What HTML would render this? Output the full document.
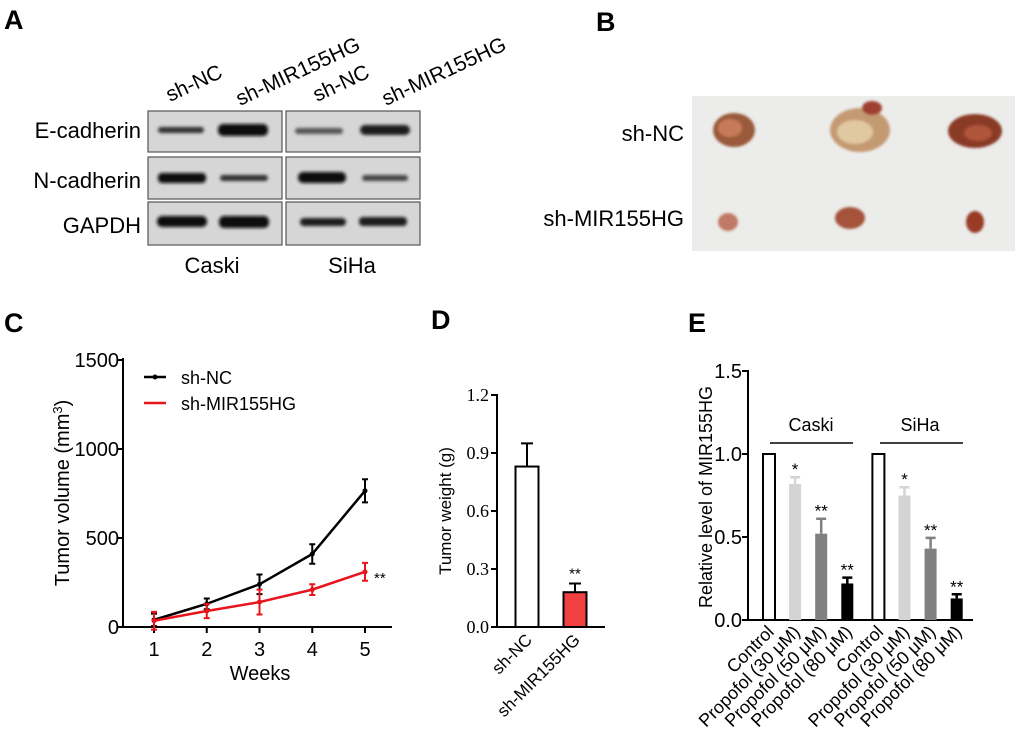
<!DOCTYPE html>
<html><head><meta charset="utf-8"><style>
html,body{margin:0;padding:0;background:#fff;}
svg{display:block;font-family:"Liberation Sans",Arial,sans-serif;}
</style></head><body>
<svg id="fig" width="1020" height="750" viewBox="0 0 1020 750" xmlns="http://www.w3.org/2000/svg">
<defs>
<filter id="blur" x="-20%" y="-100%" width="140%" height="300%"><feGaussianBlur stdDeviation="1.6"/></filter>
<filter id="blur2"><feGaussianBlur stdDeviation="1.2"/></filter>
</defs>
<text x="4" y="29" font-size="27" font-weight="bold">A</text>
<text x="596" y="31" font-size="27" font-weight="bold">B</text>
<text x="4" y="332" font-size="27" font-weight="bold">C</text>
<text x="431" y="329" font-size="27" font-weight="bold">D</text>
<text x="688" y="332" font-size="27" font-weight="bold">E</text>

<g id="panelA">
<g font-size="21">
<text transform="translate(170,102) rotate(-25)">sh-NC</text>
<text transform="translate(240,106) rotate(-25)">sh-MIR155HG</text>
<text transform="translate(317,102) rotate(-25)">sh-NC</text>
<text transform="translate(386,106) rotate(-25)">sh-MIR155HG</text>
</g>
<g font-size="22" text-anchor="end">
<text x="141" y="138">E-cadherin</text>
<text x="141" y="188">N-cadherin</text>
<text x="141" y="233">GAPDH</text>
</g>
<g font-size="22" text-anchor="middle">
<text x="212" y="273">Caski</text>
<text x="352" y="273">SiHa</text>
</g>
<g fill="#d6d6d6" stroke="#555" stroke-width="1.2">
<rect x="148" y="111" width="134" height="41"/><rect x="286" y="111" width="134" height="41"/>
<rect x="148" y="157" width="134" height="42"/><rect x="286" y="157" width="134" height="42"/>
<rect x="148" y="202" width="134" height="43"/><rect x="286" y="202" width="134" height="43"/>
</g>
<g filter="url(#blur)">
<rect x="158" y="127" width="46" height="6" rx="3" fill="#333"/>
<rect x="218" y="124" width="50" height="12" rx="5" fill="#0c0c0c"/>
<rect x="295" y="128" width="48" height="6" rx="3" fill="#555"/>
<rect x="360" y="125" width="50" height="10" rx="5" fill="#1a1a1a"/>
<rect x="158" y="173" width="48" height="10" rx="4" fill="#111"/>
<rect x="220" y="175" width="48" height="6" rx="3" fill="#333"/>
<rect x="298" y="172" width="48" height="11" rx="5" fill="#111"/>
<rect x="362" y="175" width="46" height="6" rx="3" fill="#444"/>
<rect x="157" y="216" width="50" height="11" rx="5" fill="#111"/>
<rect x="219" y="216" width="50" height="12" rx="5" fill="#0d0d0d"/>
<rect x="300" y="218" width="46" height="8" rx="4" fill="#1a1a1a"/>
<rect x="359" y="217" width="48" height="9" rx="4" fill="#1a1a1a"/>
</g>
</g>

<g id="panelB">
<text x="684" y="141" font-size="22" text-anchor="end">sh-NC</text>
<text x="684" y="226" font-size="22" text-anchor="end">sh-MIR155HG</text>
<rect x="692" y="96" width="323" height="155" fill="#ececea"/>
<g filter="url(#blur2)">
<ellipse cx="734" cy="130" rx="21" ry="17" fill="#9a5a3a"/>
<ellipse cx="730" cy="128" rx="12" ry="9" fill="#c77a5a"/>
<ellipse cx="860" cy="130" rx="30" ry="22" fill="#c49a72"/>
<ellipse cx="855" cy="132" rx="18" ry="12" fill="#e0c8a0"/>
<ellipse cx="872" cy="108" rx="10" ry="7" fill="#a04030"/>
<ellipse cx="975" cy="131" rx="27" ry="17" fill="#8a3a28"/>
<ellipse cx="978" cy="133" rx="14" ry="8" fill="#b0553a"/>
<ellipse cx="728" cy="222" rx="10" ry="9" fill="#c07a66"/>
<ellipse cx="850" cy="218" rx="15" ry="11" fill="#a5533a"/>
<ellipse cx="975" cy="222" rx="9" ry="11" fill="#9a3a28"/>
</g>
</g>

<g id="panelC"></g>
<g id="panelD"></g>
<g id="panelE"></g>
</svg>
<script>
// ---- Panel C data ----
const weeks = [1, 2, 3, 4, 5];
const ncValues = [40, 130, 240, 410, 765];
const ncErrors = [35, 30, 55, 55, 65];
const shValues = [35, 90, 140, 210, 310];
const shErrors = [50, 40, 70, 30, 50];
const cYTicks = [0, 500, 1000, 1500];
// ---- Panel D data ----
const dCategories = ["sh-NC", "sh-MIR155HG"];
const dValues = [0.83, 0.18];
const dErrors = [0.12, 0.045];
const dYTicks = ["0.0", "0.3", "0.6", "0.9", "1.2"];
// ---- Panel E data ----
const eCategories = ["Control", "Propofol (30 μM)", "Propofol (50 μM)", "Propofol (80 μM)", "Control", "Propofol (30 μM)", "Propofol (50 μM)", "Propofol (80 μM)"];
const eValues = [1.0, 0.82, 0.52, 0.22, 1.0, 0.75, 0.43, 0.13];
const eErrors = [0, 0.04, 0.09, 0.035, 0, 0.05, 0.065, 0.025];
const eStars = ["", "*", "**", "**", "", "*", "**", "**"];
const eYTicks = ["0.0", "0.5", "1.0", "1.5"];

const NS = "http://www.w3.org/2000/svg";
function mk(parent, tag, attrs, txt) {
  const e = document.createElementNS(NS, tag);
  for (const k in attrs) e.setAttribute(k, attrs[k]);
  if (txt !== undefined) e.textContent = txt;
  parent.appendChild(e);
  return e;
}

(function () {
  const g = document.getElementById("panelC");
  const x = w => 154 + (w - 1) * (365 - 154) / 4;
  const y = v => 627 - v * (627 - 360) / 1500;
  let e;
  e = mk(g, "line", {x1: 123, y1: 358, x2: 123, y2: 628, stroke: "#000", "stroke-width": 2});
   
  e = mk(g, "line", {x1: 122, y1: 627, x2: 392, y2: 627, stroke: "#000", "stroke-width": 2});
   
  cYTicks.forEach(t => {
    mk(g, "line", {x1: 117, y1: y(t), x2: 123, y2: y(t), stroke: "#000", "stroke-width": 2});
    e = mk(g, "text", {x: 119, y: y(t) + 7, "font-size": 20, "text-anchor": "end"}, String(t));
     
  });
  weeks.forEach(w => {
    mk(g, "line", {x1: x(w), y1: 627, x2: x(w), y2: 633, stroke: "#000", "stroke-width": 2});
    e = mk(g, "text", {x: x(w), y: 656, "font-size": 20, "text-anchor": "middle"}, String(w));
     
  });
  e = mk(g, "text", {x: 260, y: 680, "font-size": 20, "text-anchor": "middle"}, "Weeks");
   
  e = mk(g, "text", {transform: "translate(69,493) rotate(-90)", "font-size": 20, "text-anchor": "middle"});
   
  e.innerHTML = 'Tumor volume (mm<tspan dy="-7" font-size="13">3</tspan><tspan dy="7">)</tspan>';
  function series(vals, errs, color, name) {
    const pts = vals.map((v, i) => x(weeks[i]) + "," + y(v)).join(" ");
    let p = mk(g, "polyline", {points: pts, fill: "none", stroke: color, "stroke-width": 2.5});
     
    vals.forEach((v, i) => {
      const cx = x(weeks[i]);
      let eb = mk(g, "path", {d: `M${cx},${y(v - errs[i])}V${y(v + errs[i])}M${cx - 3},${y(v - errs[i])}h6M${cx - 3},${y(v + errs[i])}h6`, stroke: color, "stroke-width": 2, fill: "none"});
       
      let c = mk(g, "circle", {cx: cx, cy: y(v), r: 2.5, fill: color});
       
    });
  }
  series(ncValues, ncErrors, "#000", "sh-nc");
  series(shValues, shErrors, "#e8141c", "sh-mir155hg");
  e = mk(g, "text", {x: 374, y: 583, "font-size": 15}, "**");
   
  mk(g, "line", {x1: 144, y1: 377, x2: 166, y2: 377, stroke: "#000", "stroke-width": 2.5});
  mk(g, "circle", {cx: 155, cy: 377, r: 2.5, fill: "#000"});
  e = mk(g, "text", {x: 181, y: 384, "font-size": 18}, "sh-NC");
   
  mk(g, "line", {x1: 144, y1: 403, x2: 166, y2: 403, stroke: "#e8141c", "stroke-width": 2.5});
  e = mk(g, "text", {x: 181, y: 410, "font-size": 18}, "sh-MIR155HG");
   
})();

(function () {
  const g = document.getElementById("panelD");
  const y = v => 627 - v * (627 - 395) / 1.2;
  const xc = i => 527 + i * 48;
  let e;
  e = mk(g, "line", {x1: 497, y1: 394, x2: 497, y2: 628, stroke: "#000", "stroke-width": 2});
   
  e = mk(g, "line", {x1: 496, y1: 627, x2: 605, y2: 627, stroke: "#000", "stroke-width": 2});
   
  dYTicks.forEach(t => {
    const v = parseFloat(t);
    mk(g, "line", {x1: 491, y1: y(v), x2: 497, y2: y(v), stroke: "#000", "stroke-width": 2});
    e = mk(g, "text", {x: 489, y: y(v) + 6, "font-size": 18, "text-anchor": "end", "font-family": "Liberation Serif, serif"}, t);
     
  });
  e = mk(g, "text", {transform: "translate(451,511) rotate(-90)", "font-size": 17, "text-anchor": "middle"}, "Tumor weight (g)");
   
  const fills = ["#fff", "#f04040"];
  dValues.forEach((v, i) => {
    const cx = xc(i);
    let eb = mk(g, "path", {d: `M${cx},${y(v)}V${y(v + dErrors[i])}M${cx - 6},${y(v + dErrors[i])}h12`, stroke: "#000", "stroke-width": 2, fill: "none"});
     
    let r = mk(g, "rect", {x: cx - 11.5, y: y(v), width: 23, height: 627 - y(v), fill: fills[i], stroke: "#000", "stroke-width": 2});
     
    let t = mk(g, "text", {transform: `translate(${cx + 6},${641}) rotate(-45)`, "font-size": 17, "text-anchor": "end"}, dCategories[i]);
     
  });
  e = mk(g, "text", {x: xc(1), y: y(dValues[1] + dErrors[1]) - 5, "font-size": 15, "text-anchor": "middle"}, "**");
   
})();

(function () {
  const g = document.getElementById("panelE");
  const y = v => 620 - v * (620 - 371) / 1.5;
  const xc = i => 769 + i * 26.1 + (i >= 4 ? 5 : 0);
  const fills = ["#fff", "#d4d4d4", "#808080", "#000"];
  let e;
  e = mk(g, "line", {x1: 748, y1: 370, x2: 748, y2: 621, stroke: "#000", "stroke-width": 2});
   
  e = mk(g, "line", {x1: 747, y1: 620, x2: 973, y2: 620, stroke: "#000", "stroke-width": 2});
   
  eYTicks.forEach(t => {
    const v = parseFloat(t);
    mk(g, "line", {x1: 742, y1: y(v), x2: 748, y2: y(v), stroke: "#000", "stroke-width": 2});
    e = mk(g, "text", {x: 742, y: y(v) + 7, "font-size": 20, "text-anchor": "end"}, t);
     
  });
  e = mk(g, "text", {transform: "translate(712,497) rotate(-90)", "font-size": 18, "text-anchor": "middle"}, "Relative level of MIR155HG");
   
  eValues.forEach((v, i) => {
    const cx = xc(i);
    const col = fills[i % 4];
    if (eErrors[i] > 0) {
      let eb = mk(g, "path", {d: `M${cx},${y(v)}V${y(v + eErrors[i])}M${cx - 5},${y(v + eErrors[i])}h10`, stroke: col === "#fff" ? "#000" : col, "stroke-width": 2.5, fill: "none"});
       
    }
    let r = mk(g, "rect", {x: cx - 6, y: y(v), width: 12, height: 620 - y(v), fill: col, stroke: col === "#fff" ? "#000" : "none", "stroke-width": 2});
     
    if (eStars[i]) {
      let s = mk(g, "text", {x: cx, y: y(v + eErrors[i]) - 2, "font-size": 17, "text-anchor": "middle"}, eStars[i]);
       
    }
    let t = mk(g, "text", {transform: `translate(${cx + 6},${633}) rotate(-45)`, "font-size": 18, "text-anchor": "end"}, eCategories[i]);
     
  });
  mk(g, "line", {x1: 770, y1: 443, x2: 853, y2: 443, stroke: "#000", "stroke-width": 1.5});
  e = mk(g, "text", {x: 811, y: 431, "font-size": 18, "text-anchor": "middle"}, "Caski");
   
  mk(g, "line", {x1: 880, y1: 443, x2: 963, y2: 443, stroke: "#000", "stroke-width": 1.5});
  e = mk(g, "text", {x: 920, y: 431, "font-size": 18, "text-anchor": "middle"}, "SiHa");
   
})();
</script>
</body></html>
